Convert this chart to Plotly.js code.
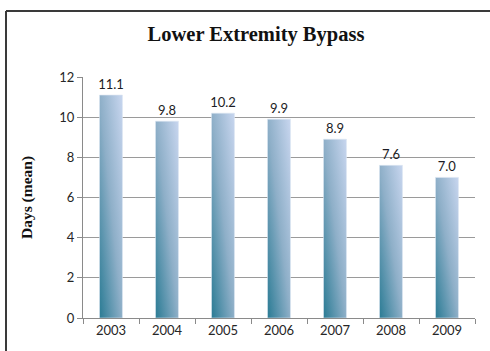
<!DOCTYPE html>
<html>
<head>
<meta charset="utf-8">
<script src="https://cdn.plot.ly/plotly-3.0.1.min.js"></script>
<style>
html,body{margin:0;padding:0;background:#fff;}
#chart{width:490px;height:351px;}
</style>
</head>
<body>
<div id="chart"></div>
<script>
const years = ['2003','2004','2005','2006','2007','2008','2009'];
const meanDays = [11.1, 9.8, 10.2, 9.9, 8.9, 7.6, 7.0];
const valueLabels = ['11.1','9.8','10.2','9.9','8.9','7.6','7.0'];
const yTickVals = [0, 2, 4, 6, 8, 10, 12];

const W = 490, H = 351, mL = 83, mR = 15, mT = 77, mB = 33;
const pw = W - mL - mR, ph = H - mT - mB;
const px = v => (v - mL) / pw;
const py = v => (H - mB - v) / ph;

const trace = {
  type: 'bar',
  x: years,
  y: meanDays,
  text: valueLabels,
  textposition: 'outside',
  cliponaxis: false,
  textfont: {family: 'Lato, sans-serif', size: 13, color: '#1c1c24'},
  marker: {color: '#8fb0c8', line: {color: '#dbe5f1', width: 0.6}},
  hoverinfo: 'none'
};

const layout = {
  width: W, height: H,
  margin: {l: mL, r: mR, t: mT, b: mB, pad: 0},
  paper_bgcolor: '#ffffff',
  plot_bgcolor: '#ffffff',
  showlegend: false,
  bargap: 0.59,
  uniformtext: {mode: false},
  title: {
    text: '<b>Lower Extremity Bypass</b>',
    font: {family: '"Liberation Serif", serif', size: 20.5, color: '#111111'},
    x: 256 / W, xanchor: 'center', xref: 'container',
    y: 1 - 34 / H, yanchor: 'middle', yref: 'container'
  },
  xaxis: {
    type: 'category',
    showline: true, linecolor: '#8a8a8a', linewidth: 1,
    ticks: 'outside', tickson: 'boundaries', ticklen: 5, tickcolor: '#8a8a8a',
    tickfont: {family: 'Lato, sans-serif', size: 13, color: '#262626'},
    showgrid: false, zeroline: false
  },
  yaxis: {
    range: [0, 12],
    tickvals: yTickVals,
    showline: true, linecolor: '#8a8a8a', linewidth: 1,
    ticks: 'outside', ticklen: 5, tickcolor: '#8a8a8a',
    showgrid: true, gridcolor: '#9a9a9a', gridwidth: 1,
    zeroline: false,
    tickfont: {family: 'Lato, sans-serif', size: 13, color: '#262626'},
    title: {
      text: '<b>Days (mean)</b>',
      font: {family: '"Liberation Serif", serif', size: 15.5, color: '#111111'},
      standoff: 22
    }
  },
  shapes: [
    {type: 'line', xref: 'paper', yref: 'paper', x0: px(6), x1: px(495), y0: py(11), y1: py(11),
     line: {color: '#3a3a3a', width: 2}},
    {type: 'line', xref: 'paper', yref: 'paper', x0: px(6), x1: px(6), y0: py(11), y1: py(360),
     line: {color: '#3a3a3a', width: 2}}
  ]
};
trace.constraintext = 'none';
layout.constraintext = 'none';

Plotly.newPlot('chart', [trace], layout, {staticPlot: true, displayModeBar: false}).then(gd => {
  const svg = gd.querySelector('.main-svg');
  const NS = 'http://www.w3.org/2000/svg';
  let defs = svg.querySelector('defs');
  if (!defs) { defs = document.createElementNS(NS, 'defs'); svg.insertBefore(defs, svg.firstChild); }
  const lg = document.createElementNS(NS, 'linearGradient');
  lg.setAttribute('id', 'barGrad');
  lg.setAttribute('x1', '0'); lg.setAttribute('y1', '1');
  lg.setAttribute('x2', '1'); lg.setAttribute('y2', '0');
  [['0', '#2a7b94'], ['0.5', '#8eafc8'], ['1', '#c8d6ef']].forEach(([o, c]) => {
    const s = document.createElementNS(NS, 'stop');
    s.setAttribute('offset', o); s.setAttribute('stop-color', c);
    lg.appendChild(s);
  });
  defs.appendChild(lg);
  gd.querySelectorAll('.bars .point path').forEach(p => { p.style.fill = 'url(#barGrad)'; });
});
</script>
</body>
</html>
